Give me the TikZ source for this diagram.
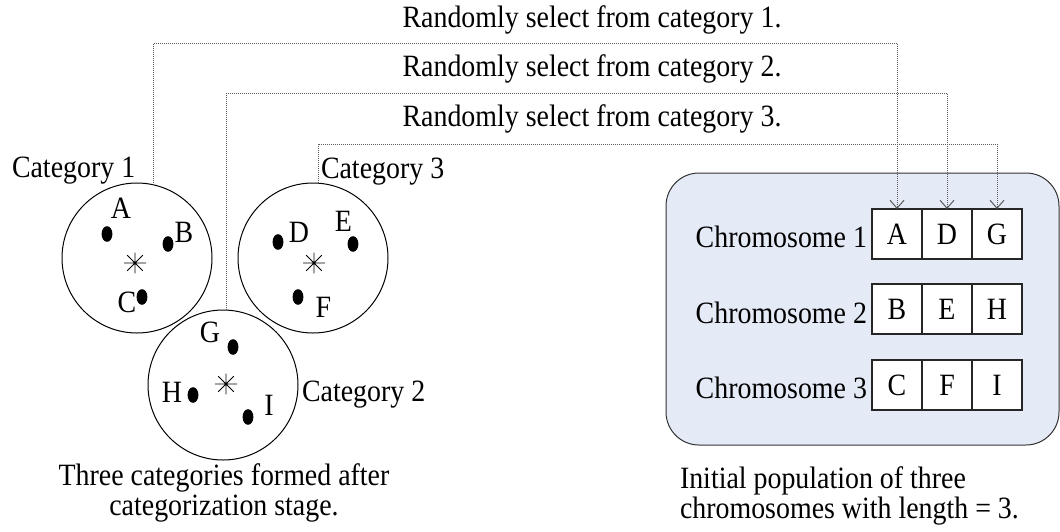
\documentclass[tikz,border=0pt]{standalone}
\usepackage{fontspec}
\setmainfont{Liberation Serif}[FakeStretch=0.9]
\usetikzlibrary{arrows.meta,shapes.geometric}
\definecolor{panelfill}{RGB}{228,234,246}
\definecolor{linkgray}{RGB}{90,90,90}
\begin{document}
\begin{tikzpicture}[x=0.5pt,y=-0.5pt,
  every node/.style={font=\fontsize{15.5}{13.5}\selectfont, inner sep=0pt, outer sep=0pt},
  category/.style={circle, draw, line width=0.5pt, minimum size=75pt},
  member/.style={ellipse, fill=black, minimum width=5.4pt, minimum height=7.8pt},
  gene/.style={rectangle, draw=black!85, fill=white, line width=0.6pt, minimum size=25pt},
  panel/.style={draw=black!80, fill=panelfill, line width=0.5pt, rounded corners=16.5pt},
  link/.style={draw=linkgray, line width=0.5pt, dash pattern=on 0.5pt off 0.5pt,
    -{Straight Barb[length=4pt,width=7pt,line width=0.5pt]}},
  centroid/.pic={\draw[line width=0.4pt] (-5.5pt,0)--(5.5pt,0) (0,-5.2pt)--(0,5.2pt)
      (-3.9pt,-3.9pt)--(3.9pt,3.9pt) (-3.9pt,3.9pt)--(3.9pt,-3.9pt);}]
\useasboundingbox (0,0) rectangle (1060,531);

% categories
\node[category] (cat1) at (137,258) {};
\node[category] (cat3) at (313,258) {};
\node[category] (cat2) at (223,385) {};
\pic at (135,263) {centroid};
\pic at (314,263) {centroid};
\pic at (226,384) {centroid};

\node[anchor=base west] (lab1) at (12,177) {Category 1};
\node[anchor=base west] (lab3) at (321,178) {Category 3};
\node[anchor=base west] (lab2) at (302,401) {Category 2};

% members of each category
\node[member] (pA) at (107,234) {};
\node[member] (pB) at (168,244) {};
\node[member] (pC) at (142,297) {};
\node[member] (pD) at (278,242) {};
\node[member] (pE) at (353,244) {};
\node[member] (pF) at (298,297) {};
\node[member] (pG) at (233,347) {};
\node[member] (pH) at (193,395) {};
\node[member] (pI) at (248,417) {};
\node[anchor=base] (tA) at (121,218) {A};
\node[anchor=base] (tB) at (184,242) {B};
\node[anchor=base] (tC) at (127,312) {C};
\node[anchor=base] (tD) at (299,242) {D};
\node[anchor=base] (tE) at (343.5,231) {E};
\node[anchor=base] (tF) at (323.5,317) {F};
\node[anchor=base] (tG) at (210,342) {G};
\node[anchor=base] (tH) at (172,402) {H};
\node[anchor=base] (tI) at (269,415) {I};

\node[anchor=north, align=center] (capL) at (224,464)
  {Three categories formed after\\categorization stage.};

% population panel
\draw[panel] (666,173) rectangle (1059,445);
\node[gene] (a1) at (897,234) {A};
\node[gene] (d1) at (947,234) {D};
\node[gene] (g1) at (997,234) {G};
\node[gene] (b2) at (897,309) {B};
\node[gene] (e2) at (947,309) {E};
\node[gene] (h2) at (997,309) {H};
\node[gene] (c3) at (897,385) {C};
\node[gene] (f3) at (947,385) {F};
\node[gene] (i3) at (997,385) {I};
\node[anchor=base east] (ch1) at (867,247) {Chromosome 1};
\node[anchor=base east] (ch2) at (867,323) {Chromosome 2};
\node[anchor=base east] (ch3) at (867,398) {Chromosome 3};

\node[anchor=north west, align=left] (capR) at (680,467)
  {Initial population of three\\chromosomes with length = 3.};

% selection links
\node[anchor=base] (sel1) at (592,27) {Randomly select from category 1.};
\node[anchor=base] (sel2) at (592,76) {Randomly select from category 2.};
\node[anchor=base] (sel3) at (592,126) {Randomly select from category 3.};
\coordinate (lvl1) at (0,43);
\coordinate (lvl2) at (0,93);
\coordinate (lvl3) at (0,144);
\draw[link] (cat1.77.7) -- (cat1.77.7 |- lvl1) -- (a1.north |- lvl1) -- (a1.north);
\draw[link] (cat2.87.7) -- (cat2.87.7 |- lvl2) -- (d1.north |- lvl2) -- (d1.north);
\draw[link] (cat3.86.2) -- (cat3.86.2 |- lvl3) -- (g1.north |- lvl3) -- (g1.north);
\end{tikzpicture}
\end{document}
